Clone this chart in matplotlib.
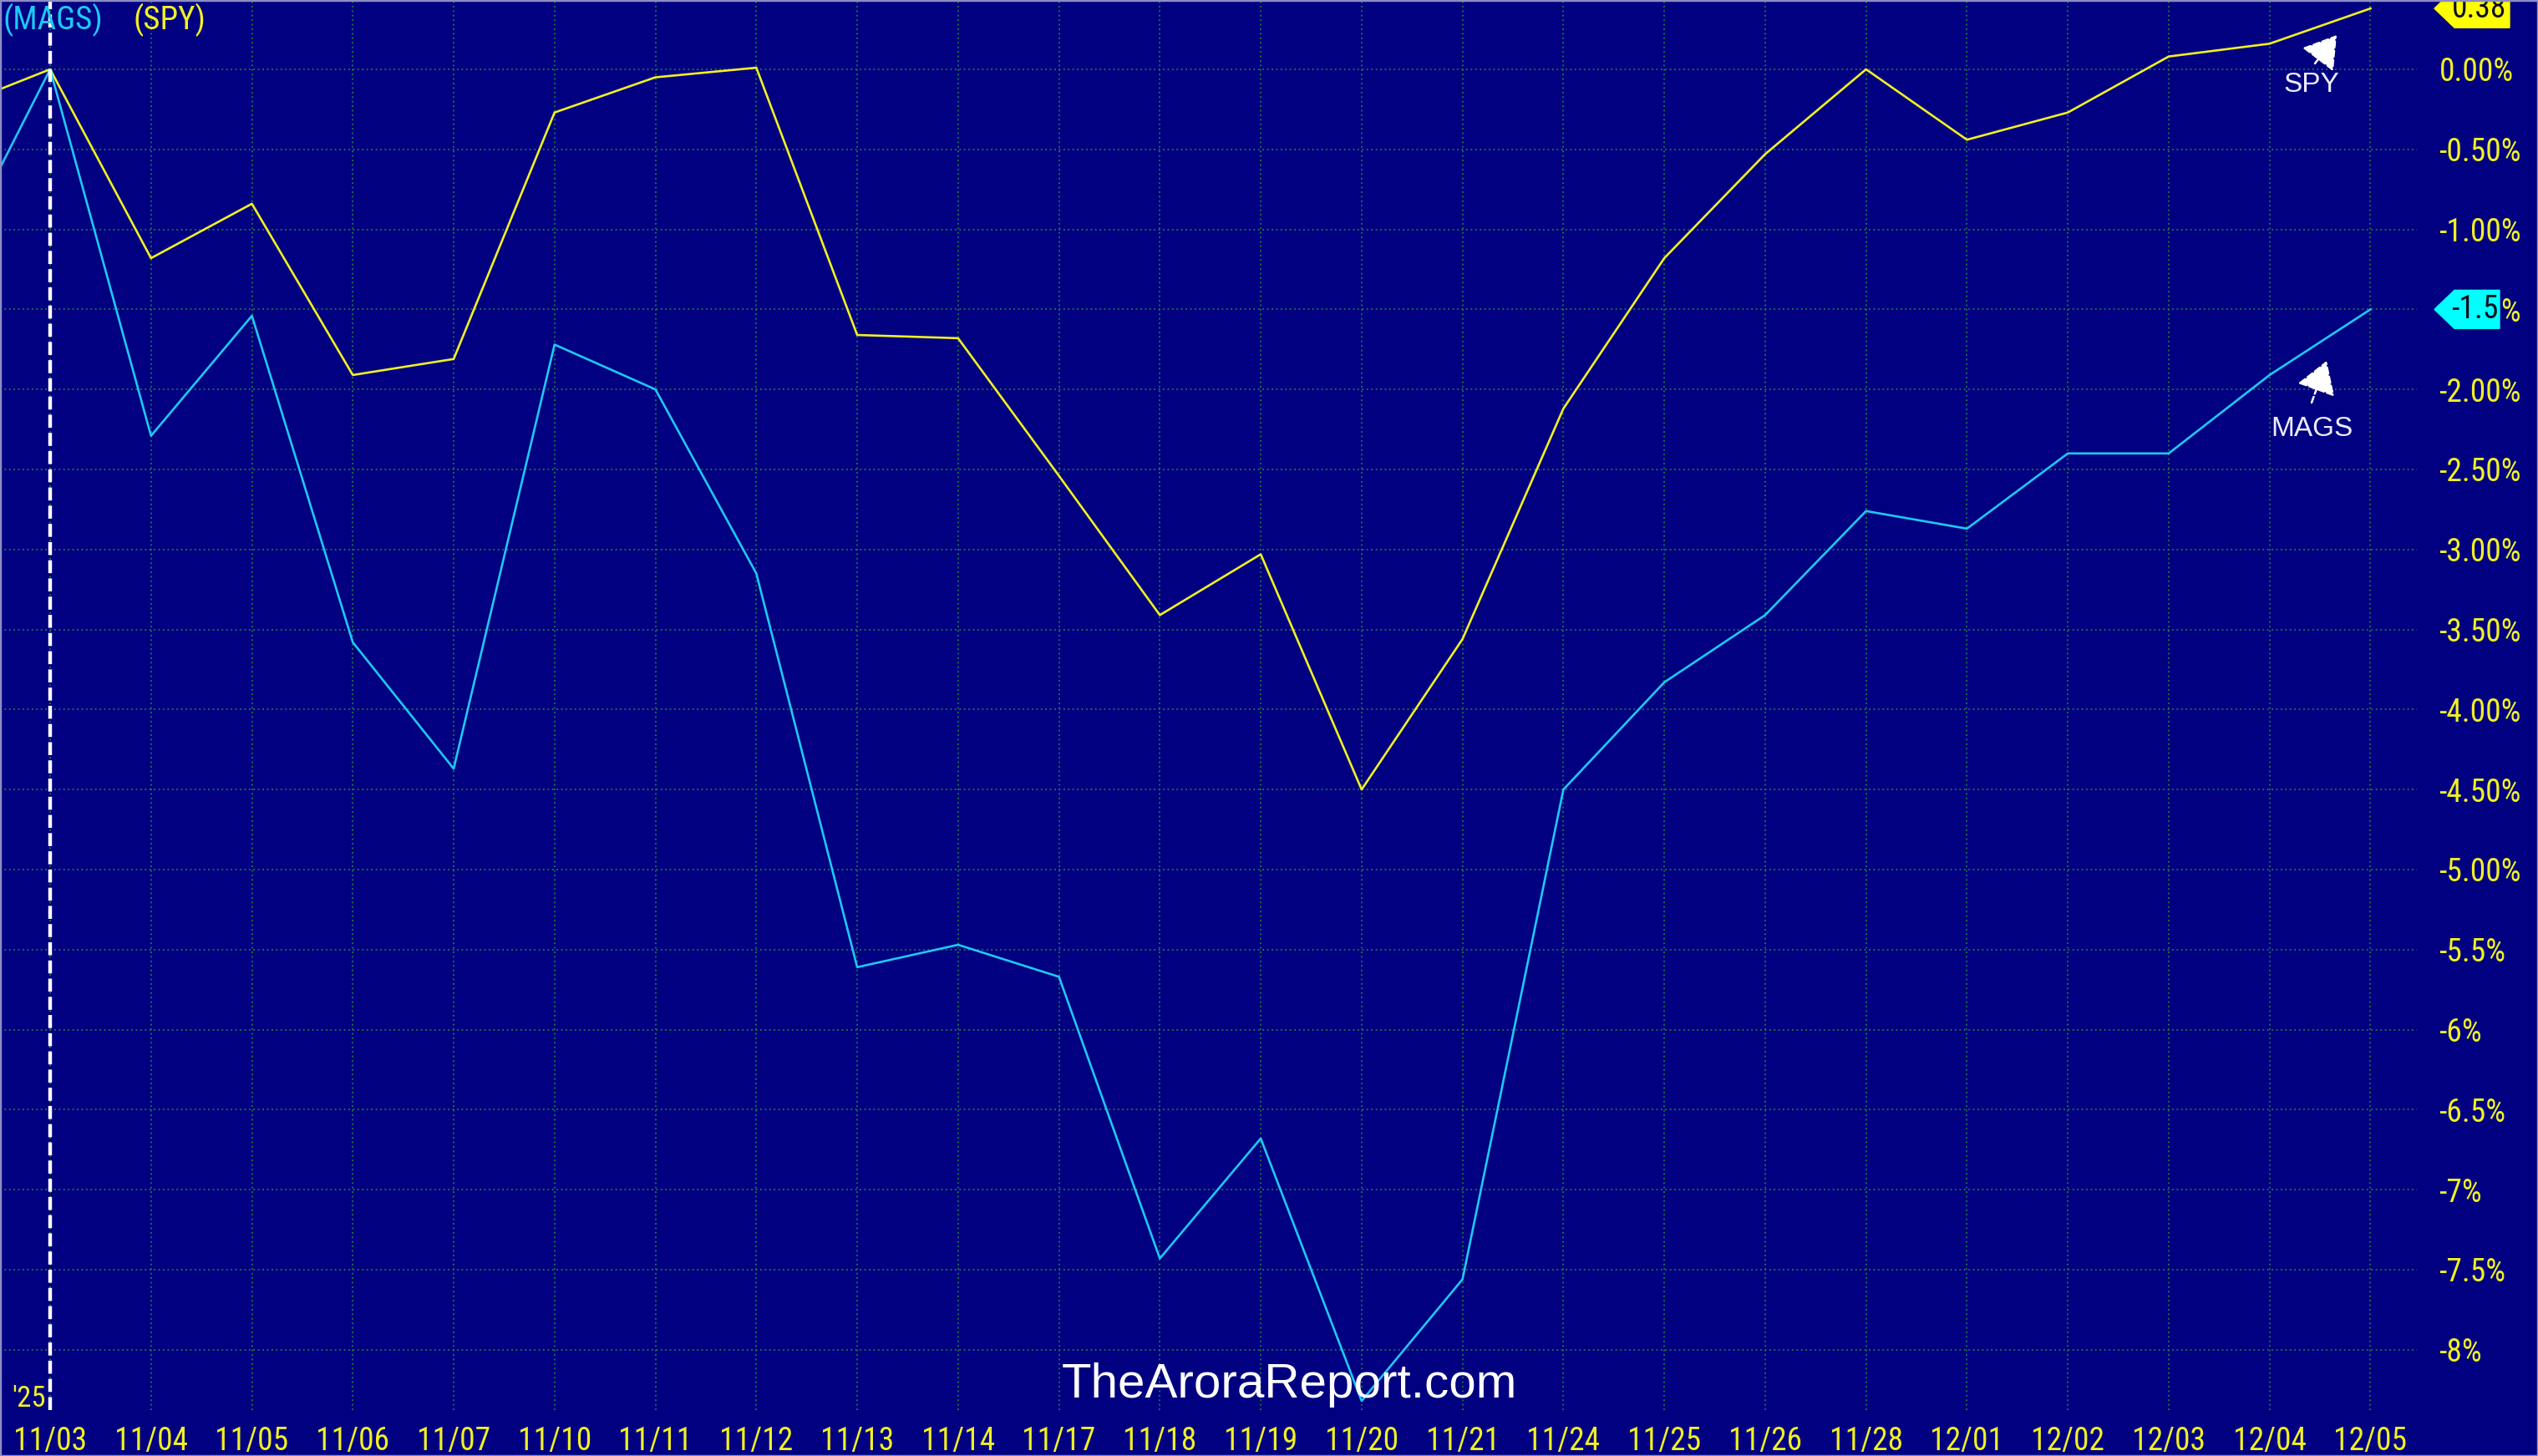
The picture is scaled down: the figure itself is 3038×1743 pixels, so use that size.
import matplotlib
matplotlib.use('Agg')
import matplotlib.pyplot as plt
import numpy as np
from matplotlib.patches import Polygon, Rectangle
import matplotlib.transforms as mtransforms
from matplotlib import font_manager

# ---------------- data ----------------
dates = ['10/31', '11/03', '11/04', '11/05', '11/06', '11/07', '11/10', '11/11', '11/12',
         '11/13', '11/14', '11/17', '11/18', '11/19', '11/20', '11/21', '11/24', '11/25',
         '11/26', '11/28', '12/01', '12/02', '12/03', '12/04', '12/05']
spy = [-0.25, 0.00, -1.18, -0.84, -1.91, -1.81, -0.27, -0.05, 0.01, -1.66, -1.68, -2.54,
       -3.41, -3.03, -4.50, -3.56, -2.12, -1.18, -0.53, 0.00, -0.44, -0.27, 0.08, 0.16, 0.38]
mags = [-1.24, 0.00, -2.29, -1.54, -3.58, -4.37, -1.72, -2.00, -3.15, -5.61, -5.47, -5.67,
        -7.43, -6.68, -8.32, -7.56, -4.50, -3.83, -3.41, -2.76, -2.87, -2.40, -2.40, -1.91, -1.50]
ytick_values = [0.0, -0.5, -1.0, -1.5, -2.0, -2.5, -3.0, -3.5, -4.0, -4.5, -5.0, -5.5,
                -6.0, -6.5, -7.0, -7.5, -8.0]
ytick_labels = ['0.00%', '-0.50%', '-1.00%', '-1.50%', '-2.00%', '-2.50%', '-3.00%', '-3.50%',
                '-4.00%', '-4.50%', '-5.00%', '-5.5%', '-6%', '-6.5%', '-7%', '-7.5%', '-8%']
spy_tag = '0.38'
mags_tag = '-1.5'


def pick(names):
    for n in names:
        try:
            font_manager.findfont(n, fallback_to_default=False)
            return n
        except Exception:
            pass
    return 'DejaVu Sans'


NARROW = pick(['Liberation Sans Narrow', 'Roboto Condensed', 'Liberation Sans'])
SANS = pick(['Liberation Sans', 'Arial', 'DejaVu Sans'])

W, H = 3038, 1743
BG = '#000080'
YEL = '#f2f022'
CYAN = '#1ec8f8'
GRID = '#1f7f3f'

fig = plt.figure(figsize=(W / 100, H / 100), dpi=100, facecolor=BG)
ax = fig.add_axes([0, 55 / H, 2893 / W, 1688 / H])
ax.set_facecolor(BG)

x = np.arange(len(dates))
ax.plot(x, spy, color=YEL, lw=1.9, zorder=3)
ax.plot(x, mags, color=CYAN, lw=1.9, zorder=3)

ax.set_xlim(0.503, 24.46)
ax.set_ylim(-8.377, 0.433)

ax.set_xticks(x[1:])
ax.set_xticklabels(dates[1:])
ax.set_yticks(ytick_values)
ax.set_yticklabels(ytick_labels)
ax.yaxis.tick_right()
ax.tick_params(axis='both', length=0, colors=YEL, labelsize=27)
ax.tick_params(axis='x', pad=14)
ax.tick_params(axis='y', pad=19)
for lab in ax.get_xticklabels() + ax.get_yticklabels():
    lab.set_fontfamily(NARROW)
for lab in ax.get_yticklabels():
    lab.set_horizontalalignment('left')

ax.grid(True, color=GRID, linestyle=(0, (1, 2)), linewidth=1.3, zorder=1)
for s in ax.spines.values():
    s.set_visible(False)

# vertical dashed marker at 11/03
ax.axvline(1, color='white', lw=3.2, dashes=(3.5, 1.4), zorder=4)


def fx(px):
    return px / W


def fy(py):
    return 1 - py / H


# legend texts
fig.text(fx(4), fy(24), '(MAGS)', color=CYAN, fontsize=28, family=NARROW, va='center', ha='left')
fig.text(fx(160), fy(24), '(SPY)', color=YEL, fontsize=28, family=NARROW, va='center', ha='left')
fig.text(fx(55), fy(1674), "'25", color=YEL, fontsize=25, family=NARROW, va='center', ha='right')

# watermark
fig.text(fx(1543), fy(1658), 'TheAroraReport.com', color='white', fontsize=42, family=SANS,
         va='center', ha='center', zorder=6)

# price tags on right axis
blend = mtransforms.blended_transform_factory(fig.transFigure, ax.transData)


def tag(val, x0, x1, color, text):
    h = 0.12
    pts = [(fx(x0), val), (fx(x0 + 24), val + h), (fx(x1), val + h), (fx(x1), val - h),
           (fx(x0 + 24), val - h)]
    poly = Polygon(pts, closed=True, transform=blend, facecolor=color, edgecolor=color,
                   zorder=5, clip_on=False)
    fig.add_artist(poly)
    t = fig.text((fx(x0 + 24) + fx(x1)) / 2 - 0.001, val, text, transform=blend,
                 color='#101020', fontsize=27, family=NARROW, ha='center', va='center',
                 zorder=6)
    return t


tag(spy[-1], 2914, 3004, '#ffff00', spy_tag)
tag(mags[-1], 2914, 2992, '#00ffff', mags_tag)

# annotations
for label, tpos, tail, tip in [('SPY', (2767, 101), (2771, 76), (2797, 42)),
                               ('MAGS', (2767, 513), (2767, 482), (2785, 432))]:
    fig.text(fx(tpos[0]), fy(tpos[1]), label, color='#ececff', fontsize=24, family=SANS,
             ha='center', va='center')
    ax.annotate('', xy=(fx(tip[0]), fy(tip[1])), xycoords='figure fraction',
                xytext=(fx(tail[0]), fy(tail[1])), textcoords='figure fraction',
                arrowprops=dict(arrowstyle='-|>,head_length=0.8,head_width=0.5', color='white',
                                lw=1.8, linestyle=(0, (3, 1.5)), mutation_scale=30,
                                shrinkA=0, shrinkB=0))

# figure border
fig.add_artist(Rectangle((0, 0), 1, 1, transform=fig.transFigure, fill=False,
                         edgecolor='#8c8cc8', lw=2.5, zorder=10))

fig.savefig('out.png', dpi=100, facecolor=BG)
